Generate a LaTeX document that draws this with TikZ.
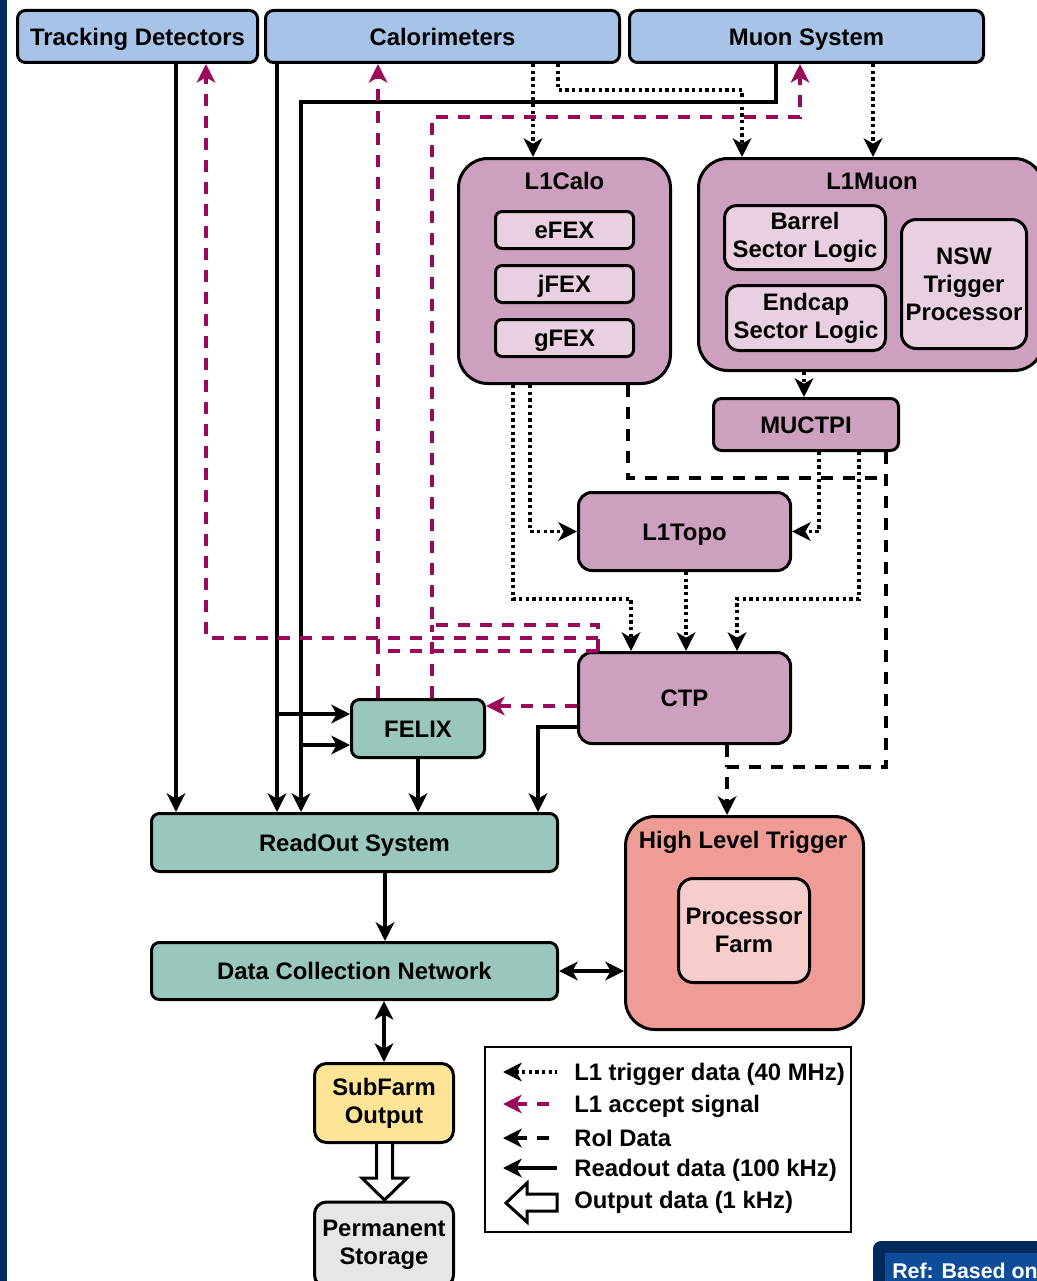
\documentclass[tikz,border=0pt]{standalone}
\usepackage{fontspec}
\setmainfont{Liberation Sans}
\usetikzlibrary{arrows.meta,calc}

\definecolor{detblue}{RGB}{167,196,232}
\definecolor{trigpurple}{RGB}{204,160,190}
\definecolor{subpurple}{RGB}{233,208,225}
\definecolor{daqteal}{RGB}{153,199,190}
\definecolor{hltsalmon}{RGB}{240,156,150}
\definecolor{hltlight}{RGB}{247,205,203}
\definecolor{sfoyellow}{RGB}{253,228,150}
\definecolor{storegrey}{RGB}{230,230,230}
\definecolor{acceptmag}{RGB}{155,10,90}
\definecolor{navy}{RGB}{0,42,92}
\definecolor{refblue}{RGB}{14,76,154}

\newcommand\dfont{\fontsize{17.9pt}{21pt}\selectfont\bfseries}

\begin{document}
\begin{tikzpicture}[x=0.75pt,y=-0.75pt,
  >={Stealth[length=14pt,width=14pt,inset=4pt]},
  wh/.style 2 args={minimum width=#1*0.75pt,minimum height=#2*0.75pt},
  oneline/.style={text height=12.8pt,text depth=0pt},
  box/.style={draw=black,line width=2.25pt,font=\dfont,align=center,inner sep=0pt},
  topbox/.style={box,oneline,fill=detblue,rounded corners=6pt},
  bigtrig/.style={box,fill=trigpurple,rounded corners=22pt},
  trigbox/.style={box,oneline,fill=trigpurple,rounded corners=10pt},
  subbox/.style={box,fill=subpurple,rounded corners=5pt},
  daqbox/.style={box,oneline,fill=daqteal,rounded corners=6pt},
  title/.style={font=\dfont,inner sep=0pt,oneline},
  readout/.style={draw=black,line width=2.5pt},
  trigdata/.style={draw=black,line width=2.5pt,dash pattern=on 2.5pt off 2.5pt},
  roidata/.style={draw=black,line width=2.5pt,dash pattern=on 9pt off 7.5pt},
  accept/.style={draw=acceptmag,line width=2.5pt,dash pattern=on 9pt off 7.5pt},
  hollow/.style={draw=black,fill=white,line width=2.25pt,line join=miter},
]
\clip (0,0) rectangle (1037,1281);
\useasboundingbox (0,0) rectangle (1037,1281);
\fill[white] (0,0) rectangle (1037,1281);
\fill[navy] (0,0) rectangle (7,1281);

% detector systems
\node[topbox,wh={240}{52}] (td)  at (137.5,36.5) {Tracking Detectors};
\node[topbox,wh={354}{52}] (cal) at (442.5,36.5) {Calorimeters};
\node[topbox,wh={354}{52}] (mu)  at (806.5,36.5) {Muon System};

% level-1 calorimeter trigger
\node[bigtrig,wh={212}{225}] (l1calo) at (564.5,271) {};
\node[title] (l1calot) at (564.5,181) {L1Calo};
\node[subbox,oneline,wh={138}{37}] (efex) at (564.5,230) {eFEX};
\node[subbox,oneline,wh={138}{37}] (jfex) at (564.5,284) {jFEX};
\node[subbox,oneline,wh={138}{37}] (gfex) at (564.5,338) {gFEX};

% level-1 muon trigger
\node[bigtrig,wh={345}{212}] (l1muon) at (871,264.5) {};
\node[title] (l1muont) at (872,181) {L1Muon};
\node[subbox,rounded corners=9pt,wh={161}{64}] (bsl) at (805,237.5) {Barrel\\Sector Logic};
\node[subbox,rounded corners=9pt,wh={159}{65}] (esl) at (806,318) {Endcap\\Sector Logic};
\node[subbox,rounded corners=11pt,wh={125}{129}] (nsw) at (964,284) {NSW\\Trigger\\Processor};

\node[trigbox,rounded corners=6pt,wh={185}{52}] (muctpi) at (806,424.5) {MUCTPI};
\node[trigbox,wh={212}{78}] (l1topo) at (684.5,531.5) {L1Topo};
\node[trigbox,wh={212}{91}] (ctp) at (684.5,698) {CTP};

% readout and dataflow
\node[daqbox,wh={133}{58}] (felix) at (418,728.5) {FELIX};
\node[daqbox,wh={406}{58}] (ros) at (354.5,842.5) {ReadOut System};
\node[daqbox,wh={406}{57}] (dcn) at (354.5,971) {Data Collection Network};

% high level trigger
\node[box,fill=hltsalmon,rounded corners=22pt,wh={238}{213}] (hlt) at (744.5,923) {};
\node[title] (hltt) at (743,840) {High Level Trigger};
\node[box,fill=hltlight,rounded corners=11pt,wh={131}{104}] (pf) at (744,930.5) {Processor\\Farm};

\node[box,fill=sfoyellow,rounded corners=9pt,wh={139}{79}] (sfo) at (384,1103) {SubFarm\\Output};
\node[box,fill=storegrey,rounded corners=9pt,wh={139}{85}] (ps) at (384,1244.5) {Permanent\\Storage};

% readout data
\draw[readout,->] (176,0 |- td.south) -- (176,0 |- ros.north);
\draw[readout,->] (277,0 |- cal.south) -- (277,0 |- ros.north);
\draw[readout,->] (277,714) -- (felix.west |- 0,714);
\draw[readout,->] (776,0 |- mu.south) -- (776,102) -- (301,102) -- (301,0 |- ros.north);
\draw[readout,->] (301,745) -- (felix.west |- 0,745);
\draw[readout,->] (felix.south) -- (felix.south |- ros.north);
\draw[readout,->] (ctp.west |- 0,727) -- (538,727) -- (538,0 |- ros.north);
\draw[readout,->] (385,0 |- ros.south) -- (385,0 |- dcn.north);
\draw[readout,<->] (dcn.east) -- (hlt.west |- dcn.east);
\draw[readout,<->] (sfo.north |- dcn.south) -- (sfo.north);

% output data
\draw[hollow] (376.5,0 |- sfo.south) -- (376.5,1178) -- (362,1178) -- (384.5,1200)
  -- (407,1178) -- (392.5,1178) -- (392.5,0 |- sfo.south);

% level-1 trigger data
\draw[trigdata,->] (533,0 |- cal.south) -- (533,0 |- l1calo.north);
\draw[trigdata,->] (558,0 |- cal.south) -- (558,90) -- (742,90) -- (742,0 |- l1muon.north);
\draw[trigdata,->] (873,0 |- mu.south) -- (873,0 |- l1muon.north);
\draw[trigdata,->] (804,0 |- l1muon.south) -- (804,0 |- muctpi.north);
\draw[trigdata,->] (530,0 |- l1calo.south) -- (530,0 |- l1topo.west) -- (l1topo.west);
\draw[trigdata,->] (513,0 |- l1calo.south) -- (513,599) -- (631,599) -- (631,0 |- ctp.north);
\draw[trigdata,->] (819,0 |- muctpi.south) -- (819,0 |- l1topo.east) -- (l1topo.east);
\draw[trigdata,->] (859,0 |- muctpi.south) -- (859,599) -- (737,599) -- (737,0 |- ctp.north);
\draw[trigdata,->] (686,0 |- l1topo.south) -- (686,0 |- ctp.north);

% region-of-interest data
\draw[roidata] (628,0 |- l1calo.south) -- (628,478) -- (886,478);
\draw[roidata,->] (886,0 |- muctpi.south) -- (886,767) -- (727,767) -- (727,0 |- hlt.north);
\draw[roidata] (727,0 |- ctp.south) -- (727,767);

% level-1 accept
\draw[accept,->] (ctp.west |- 0,706) -- (felix.east |- 0,706);
\draw[accept,->] (598,0 |- ctp.north) -- (598,625) -- (432,625) -- (432,117) -- (800,117) -- (800,0 |- mu.south);
\draw[accept,->] (598,0 |- ctp.north) -- (378,0 |- ctp.north) -- (378,0 |- cal.south);
\draw[accept,->] (598,638) -- (206,638) -- (206,0 |- td.south);
\draw[accept] (378,0 |- felix.north) -- (378,0 |- ctp.north);
\draw[accept] (432,0 |- felix.north) -- (432,625);

% legend
\node[draw=black,line width=1.5pt,wh={366}{185}] (legend) at (668,1139.5) {};
\node[title,anchor=west] (leg1) at (574,1072) {L1 trigger data (40 MHz)};
\node[title,anchor=west] (leg2) at (574,1104) {L1 accept signal};
\node[title,anchor=west] (leg3) at (574,1138) {RoI Data};
\node[title,anchor=west] (leg4) at (574,1168) {Readout data (100 kHz)};
\node[title,anchor=west] (leg5) at (574,1200) {Output data (1 kHz)};
\draw[trigdata,<-] ($(leg1.west)+(-71,0)$) -- ($(leg1.west)+(-17,0)$);
\draw[accept,<-] ($(leg2.west)+(-71,0)$) -- ($(leg2.west)+(-17,0)$);
\draw[roidata,<-] ($(leg3.west)+(-71,0)$) -- ($(leg3.west)+(-17,0)$);
\draw[readout,<-] ($(leg4.west)+(-71,0)$) -- ($(leg4.west)+(-17,0)$);
\draw[hollow] ($(leg5.west)+(-17,-6)$) -- ($(leg5.west)+(-47,-6)$) -- ($(leg5.west)+(-47,-17)$)
  -- ($(leg5.west)+(-68,3)$) -- ($(leg5.west)+(-47,22)$) -- ($(leg5.west)+(-47,11)$)
  -- ($(leg5.west)+(-17,11)$) -- cycle;

% reference tag
\fill[navy,rounded corners=6pt] (873,1241) rectangle (1060,1300);
\fill[refblue] (885,1253) rectangle (1060,1300);
\node[anchor=base west,inner sep=0pt,text=white,font=\fontsize{16pt}{19pt}\selectfont\bfseries] (ref) at (892,1278) {Ref: Based on};
\end{tikzpicture}
\end{document}
